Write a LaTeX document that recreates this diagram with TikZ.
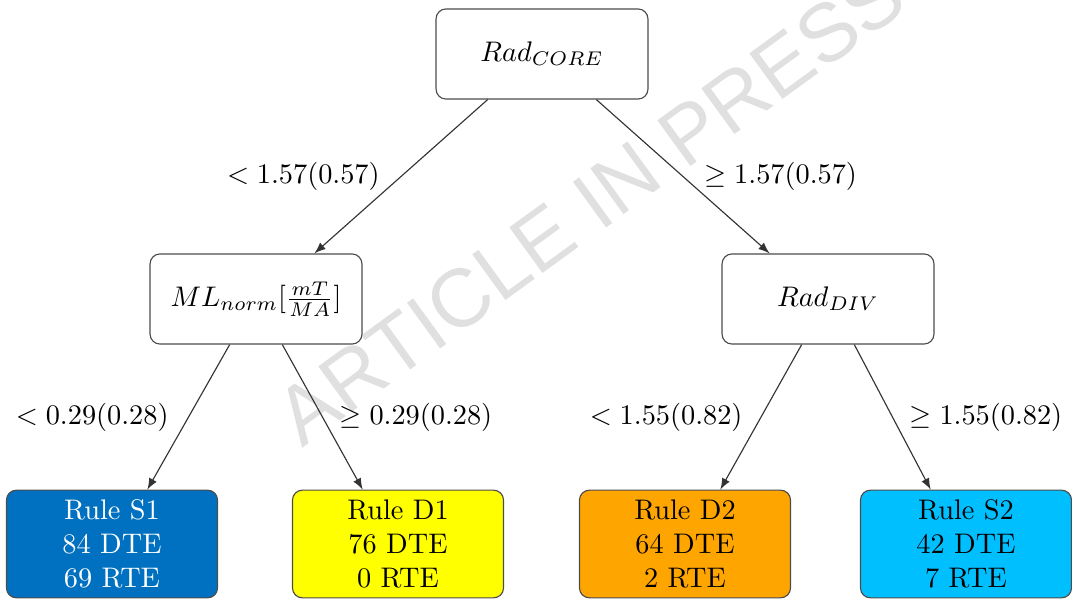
\documentclass[tikz,border=0pt]{standalone}
\usepackage{fontspec}
\usepackage{tikz}
\newfontfamily\wmfont{Liberation Sans}
\definecolor{ruleblue}{RGB}{0,112,192}
\definecolor{ruleyellow}{RGB}{255,255,0}
\definecolor{ruleorange}{RGB}{255,165,0}
\definecolor{rulecyan}{RGB}{0,191,255}
\definecolor{wmgray}{RGB}{224,224,224}

\tikzset{
  split/.style={draw=black!70,fill=white,rounded corners=3.5pt,minimum width=74.8pt,minimum height=31.8pt},
  leaf/.style={draw=black!70,rounded corners=3.5pt,minimum width=74.5pt,minimum height=38pt,align=center},
  branch/.style={draw=black!80,-latex},
}

\begin{document}
\begin{tikzpicture}[x=0.353pt,y=-0.353pt]
\useasboundingbox (0,0) rectangle (1072,601);
% watermark
\node[text=wmgray,rotate=36,font=\wmfont\fontsize{29}{29}\selectfont] (wm) at (590,205) {ARTICLE IN PRESS};

% splits
\node[split] (core) at (542,54) {$Rad_{CORE}$};
\node[split] (ml) at (256,299) {$ML_{norm}[\frac{mT}{MA}]$};
\node[split] (div) at (828,299) {$Rad_{DIV}$};

% leaves
\node[leaf,fill=ruleblue,text=white] (s1) at (112,544) {Rule S1\\84 DTE\\69 RTE};
\node[leaf,fill=ruleyellow] (d1) at (398,544) {Rule D1\\76 DTE\\0 RTE};
\node[leaf,fill=ruleorange] (d2) at (685,544) {Rule D2\\64 DTE\\2 RTE};
\node[leaf,fill=rulecyan] (s2) at (966,544) {Rule S2\\42 DTE\\7 RTE};

\draw[branch] (core.220) -- node[left=4pt] {$< 1.57(0.57)$} (ml.38);
\draw[branch] (core.320) -- node[right=4pt] {$\geq 1.57(0.57)$} (div.142);
\draw[branch] (ml.240) -- node[left=3.5pt] {$< 0.29(0.28)$} (s1.57);
\draw[branch] (ml.300) -- node[right=2.5pt] {$\geq 0.29(0.28)$} (d1.123);
\draw[branch] (div.240) -- node[left=3pt] {$< 1.55(0.82)$} (d2.57);
\draw[branch] (div.300) -- node[right=2.5pt] {$\geq 1.55(0.82)$} (s2.123);
\end{tikzpicture}
\end{document}
